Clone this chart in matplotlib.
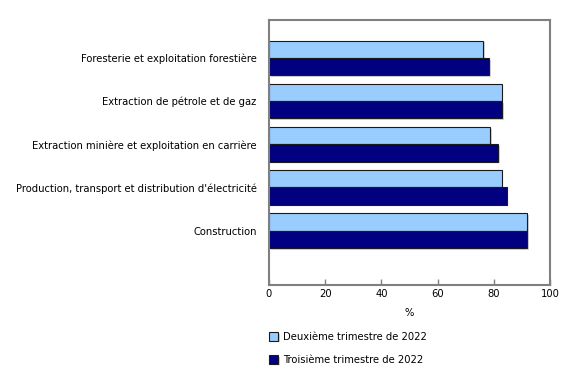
import matplotlib.pyplot as plt
import matplotlib.patheffects as pe
import numpy as np

categories = [
    "Foresterie et exploitation forestière",
    "Extraction de pétrole et de gaz",
    "Extraction minière et exploitation en carrière",
    "Production, transport et distribution d'électricité",
    "Construction",
]
t2_2022 = [76.2, 82.8, 78.7, 82.8, 91.8]
t3_2022 = [78.3, 82.9, 81.6, 84.6, 91.9]
series_names = ["Deuxième trimestre de 2022", "Troisième trimestre de 2022"]

plt.rcParams['font.family'] = ['DejaVu Sans']
plt.rcParams['font.size'] = 7.2

fig = plt.figure(figsize=(5.8, 3.7), dpi=100)
ax = fig.add_axes([269 / 580, 1 - 285 / 370, 281 / 580, 265 / 370])

y = np.arange(len(categories))
h = 0.4
shadow = [pe.SimplePatchShadow(offset=(1.2, -1.2), shadow_rgbFace='#c8c8c8', alpha=0.8), pe.Normal()]
b1 = ax.barh(y - h / 2, t2_2022, height=h, color='#99ccff', edgecolor='#1a1a1a', linewidth=0.8,
             label=series_names[0], path_effects=shadow)
b2 = ax.barh(y + h / 2, t3_2022, height=h, color='#000080', edgecolor='#1a1a1a', linewidth=0.8,
             label=series_names[1], path_effects=shadow)

ax.set_xlim(0, 100)
ax.set_ylim(5.26, -0.88)
ax.set_xticks(range(0, 101, 20))
ax.set_yticks(y)
ax.set_yticklabels(categories)
ax.tick_params(axis='y', length=0, pad=9)
ax.tick_params(axis='x', length=4, width=1, color='#808080', direction='in', pad=3)
for s in ax.spines.values():
    s.set_color('#808080')
    s.set_linewidth(1.5)
ax.set_xlabel('%', labelpad=6)

fig.legend(handles=[b1, b2], labels=series_names, loc='upper left',
           bbox_to_anchor=(260 / 580, 1 - 323 / 370), frameon=False,
           handlelength=0.9, handleheight=0.9, handletextpad=0.5, labelspacing=1.3)

fig.savefig('out.png', dpi=100)
